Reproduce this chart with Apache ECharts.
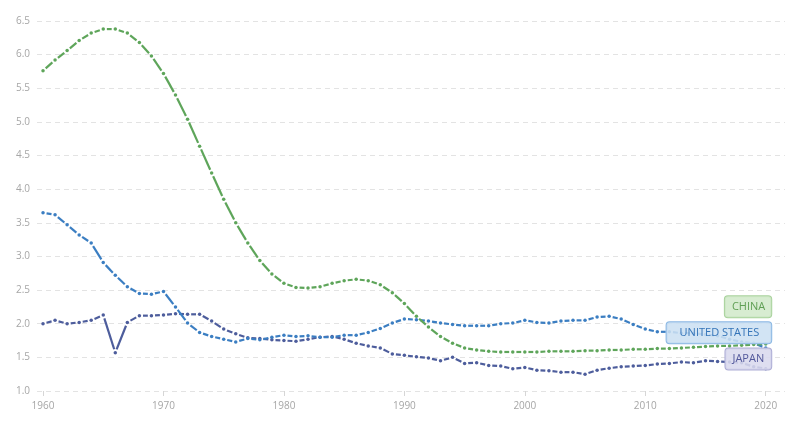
<!DOCTYPE html>
<html>
<head>
<meta charset="utf-8">
<script src="https://cdn.jsdelivr.net/npm/echarts@6/dist/echarts.min.js"></script>
<style>
html,body{margin:0;padding:0;background:#fff;}
#chart{width:800px;height:424px;}
</style>
</head>
<body>
<div id="chart"></div>
<script>
const years = [1960,1961,1962,1963,1964,1965,1966,1967,1968,1969,
  1970,1971,1972,1973,1974,1975,1976,1977,1978,1979,
  1980,1981,1982,1983,1984,1985,1986,1987,1988,1989,
  1990,1991,1992,1993,1994,1995,1996,1997,1998,1999,
  2000,2001,2002,2003,2004,2005,2006,2007,2008,2009,
  2010,2011,2012,2013,2014,2015,2016,2017,2018,2019,2020];

const china = [5.76,5.92,6.06,6.21,6.32,6.38,6.38,6.32,6.18,5.98,
  5.72,5.40,5.04,4.64,4.24,3.85,3.50,3.20,2.94,2.74,
  2.60,2.54,2.53,2.55,2.60,2.64,2.66,2.64,2.58,2.46,
  2.30,2.11,1.95,1.81,1.71,1.64,1.61,1.59,1.58,1.58,
  1.58,1.58,1.59,1.59,1.59,1.60,1.60,1.61,1.61,1.62,
  1.62,1.63,1.63,1.64,1.65,1.66,1.67,1.67,1.68,1.69,1.70];

const unitedStates = [3.65,3.62,3.47,3.32,3.20,2.91,2.72,2.55,2.45,2.44,
  2.48,2.25,2.01,1.87,1.81,1.77,1.73,1.78,1.76,1.80,
  1.83,1.81,1.82,1.80,1.80,1.83,1.83,1.87,1.93,2.01,
  2.07,2.06,2.04,2.01,1.99,1.97,1.97,1.97,2.00,2.01,
  2.05,2.02,2.01,2.04,2.05,2.05,2.10,2.11,2.07,1.99,
  1.92,1.88,1.88,1.86,1.86,1.84,1.82,1.77,1.73,1.71,1.64];

const japan = [2.00,2.05,2.00,2.02,2.05,2.13,1.57,2.02,2.12,2.12,
  2.13,2.15,2.14,2.14,2.04,1.92,1.85,1.79,1.78,1.76,
  1.75,1.74,1.77,1.80,1.81,1.77,1.71,1.67,1.64,1.55,
  1.53,1.51,1.49,1.45,1.50,1.41,1.42,1.38,1.37,1.33,
  1.35,1.31,1.30,1.28,1.28,1.25,1.31,1.34,1.36,1.37,
  1.38,1.40,1.41,1.43,1.42,1.45,1.44,1.43,1.42,1.36,1.33];

const seriesNames = ['CHINA', 'UNITED STATES', 'JAPAN'];
const xTickLabels = [1960, 1970, 1980, 1990, 2000, 2010, 2020];

const colors = { 'CHINA': '#5ea55a', 'UNITED STATES': '#3b7ec2', 'JAPAN': '#4d5d9c' };

function pairs(vals) { return years.map((y, i) => [y, vals[i]]); }

function dashedSeries(name, vals) {
  const color = colors[name];
  const gap = 3.6;
  return {
    type: 'custom',
    name: name,
    data: pairs(vals),
    encode: { x: 0, y: 1 },
    silent: true,
    renderItem: function (params, api) {
      const i = params.dataIndexInside;
      const cur = api.coord([api.value(0), api.value(1)]);
      const children = [];
      if (i > 0) {
        const prev = api.coord([api.value(0, i - 1), api.value(1, i - 1)]);
        const dx = cur[0] - prev[0], dy = cur[1] - prev[1];
        const L = Math.sqrt(dx * dx + dy * dy);
        if (L > 2 * gap + 0.5) {
          const ux = dx / L, uy = dy / L;
          children.push({
            type: 'line',
            shape: { x1: prev[0] + ux * gap, y1: prev[1] + uy * gap, x2: cur[0] - ux * gap, y2: cur[1] - uy * gap },
            style: { stroke: color, lineWidth: 2.2, lineCap: 'butt' }
          });
        }
      }
      children.push({ type: 'circle', shape: { cx: cur[0], cy: cur[1], r: 1.75 }, style: { fill: color } });
      return { type: 'group', children: children };
    }
  };
}

const labelStyles = {
  'CHINA': { text: '#5f9f54', bg: 'rgba(210,233,203,0.88)', border: '#a9d29d', dy: -36.7, pad: [5, 6, 5, 7] },
  'UNITED STATES': { text: '#3474b8', bg: 'rgba(204,224,243,0.88)', border: '#8ab7e3', dy: -14.7, pad: [5, 12, 5, 13] },
  'JAPAN': { text: '#53589b', bg: 'rgba(218,218,238,0.88)', border: '#adadd5', dy: -9.4, pad: [5, 7, 5, 7] }
};

const lastIdx = years.length - 1;
const seriesVals = { 'CHINA': china, 'UNITED STATES': unitedStates, 'JAPAN': japan };

const labelData = seriesNames.map(n => {
  const s = labelStyles[n];
  return {
    value: [years[lastIdx], seriesVals[n][lastIdx]],
    label: {
      show: true,
      formatter: n,
      position: [6, s.dy],
      align: 'right',
      verticalAlign: 'middle',
      color: s.text,
      opacity: 1,
      backgroundColor: s.bg,
      borderColor: s.border,
      borderWidth: 1,
      borderRadius: 3,
      padding: s.pad,
      fontFamily: 'Open Sans',
      fontSize: 11
    }
  };
});

const chart = echarts.init(document.getElementById('chart'), null, { renderer: 'canvas' });
chart.setOption({
  animation: false,
  backgroundColor: '#ffffff',
  grid: { left: 37, right: 15, top: 21, bottom: 33, containLabel: false },
  xAxis: {
    type: 'value',
    min: 1959.5,
    max: 2021.6,
    axisLine: { show: false },
    splitLine: { show: false },
    axisTick: { show: true, customValues: xTickLabels, length: 5, lineStyle: { color: '#d6d6d6' } },
    axisLabel: {
      customValues: xTickLabels,
      formatter: v => String(v),
      color: '#a6a6a6',
      fontFamily: 'Open Sans',
      fontSize: 10,
      margin: 10
    }
  },
  yAxis: {
    type: 'value',
    min: 1,
    max: 6.5,
    interval: 0.5,
    axisLine: { show: false },
    axisTick: { show: false },
    splitLine: { lineStyle: { color: '#e3e3e3', type: [5, 4], width: 1 } },
    axisLabel: {
      formatter: v => v.toFixed(1),
      color: '#a6a6a6',
      fontFamily: 'Open Sans',
      fontSize: 10,
      margin: 7
    }
  },
  series: [
    dashedSeries('JAPAN', japan),
    dashedSeries('UNITED STATES', unitedStates),
    dashedSeries('CHINA', china),
    {
      type: 'scatter',
      name: 'labels',
      symbol: 'circle',
      symbolSize: 1,
      itemStyle: { color: '#ffffff', opacity: 0 },
      silent: true,
      z: 10,
      data: labelData
    }
  ]
});
</script>
</body>
</html>
